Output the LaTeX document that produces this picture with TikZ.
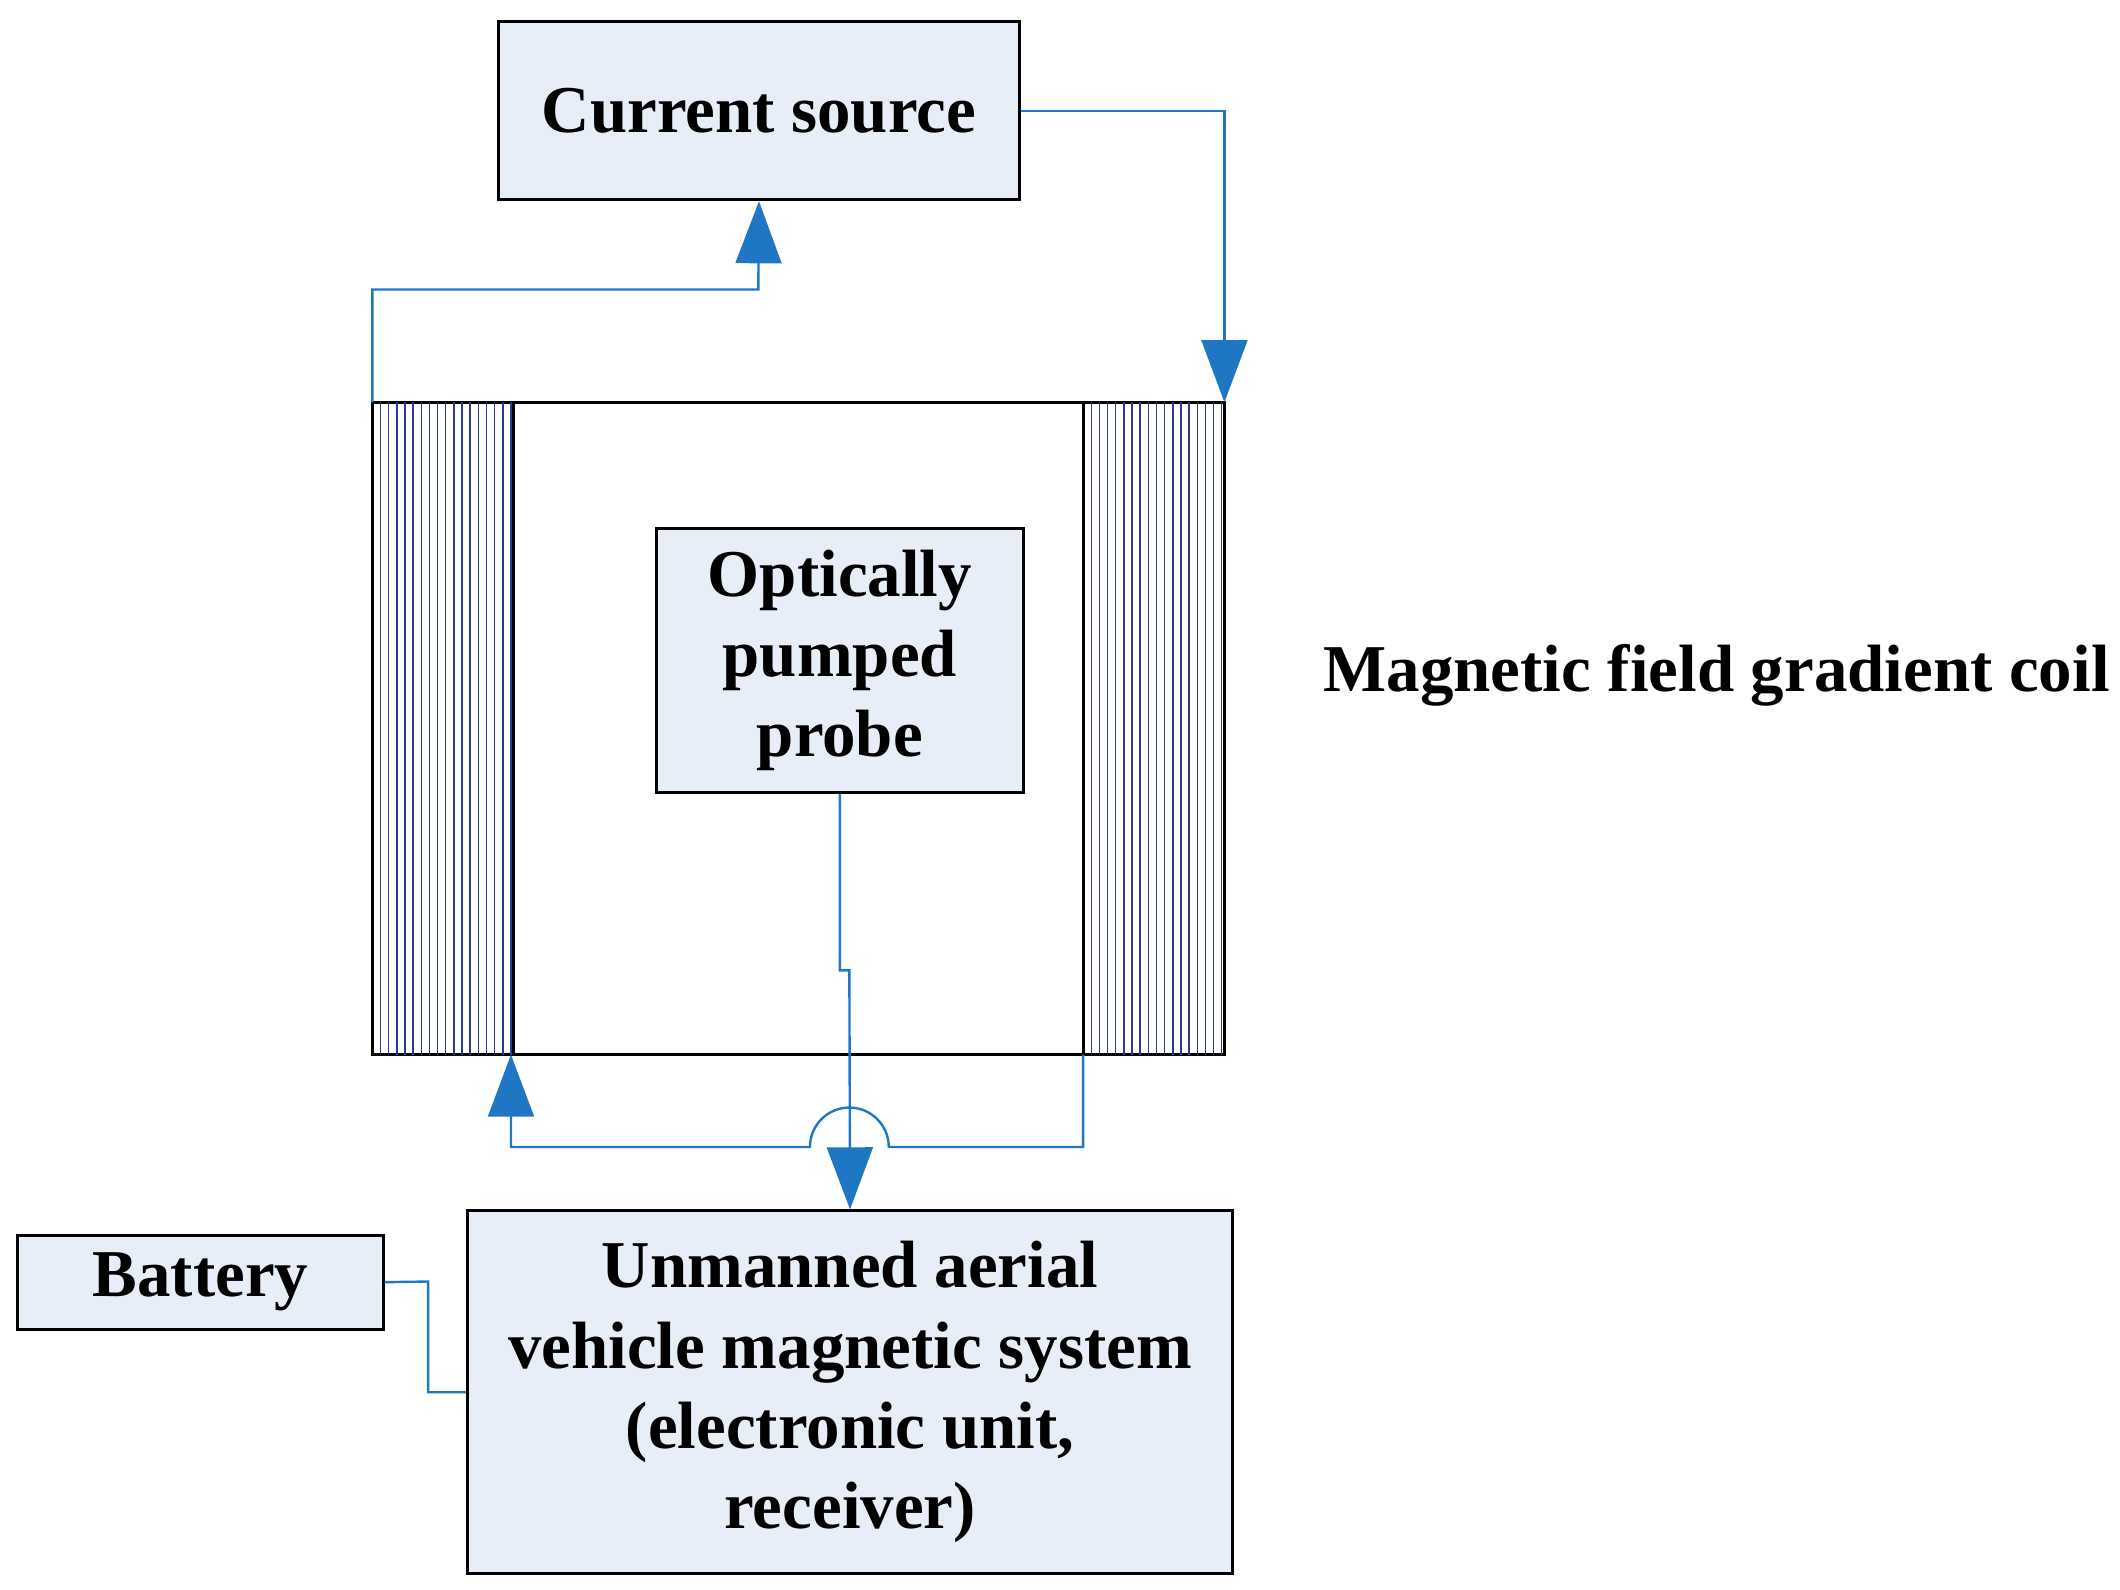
\documentclass[tikz,border=0pt]{standalone}
\usepackage{fontspec}
\setmainfont{Liberation Serif}
\usetikzlibrary{arrows.meta}
\definecolor{ln}{HTML}{1F77C4}
\definecolor{bx}{HTML}{E8EEF7}
\definecolor{hatch}{HTML}{2B3A8C}
\begin{document}
\begin{tikzpicture}[x=0.01cm,y=-0.01cm,
  box/.style={draw=black,fill=bx,line width=0.6pt,align=center,inner sep=0pt,
    font=\fontsize{14pt}{16.8pt}\selectfont\bfseries},
  conn/.style={draw=ln,line width=0.5pt},
  arr/.style={conn,-{Triangle[width=9.6pt,length=13pt]}}]
\useasboundingbox (0,0) rectangle (1560,1170);
\node[box,minimum width=383*0.01cm,minimum height=131*0.01cm] (cs) at (558.5,81.5) {Current source};
\node[box,minimum width=270*0.01cm,minimum height=194*0.01cm] (pr) at (618,486) {Optically\\pumped\\probe};
\node[box,minimum width=269*0.01cm,minimum height=69*0.01cm] (bat) at (147.5,943.5) {Battery};
\node[box,minimum width=563*0.01cm,minimum height=267*0.01cm] (uav) at (625.5,1024.5) {Unmanned aerial\\vehicle magnetic system\\(electronic unit,\\receiver)};
\node[font=\fontsize{14pt}{16.8pt}\selectfont\bfseries,anchor=east,inner sep=0pt] (lab) at (1553,497) {Magnetic field gradient coil};
% coil
\draw[line width=0.6pt] (274,296) rectangle (901,776);
\foreach \x in {280,286,...,376} \draw[hatch,line width=0.3pt] (\x,296) -- (\x,776);
\foreach \x in {803,809,...,899} \draw[hatch,line width=0.3pt] (\x,296) -- (\x,776);
\draw[line width=0.6pt] (378,296) -- (378,776) (797,296) -- (797,776);
\coordinate (lt) at (274,296);
\coordinate (rt) at (901,296);
\coordinate (rb) at (797,776);
\coordinate (lb) at (376,776);
% connectors
\draw[arr] (lt) |- (558,213) -- (cs.south);
\draw[arr] (cs.east) -| (rt);
\draw[arr] (pr.south) -- (618,714) -- (625,714) -- (uav.north);
\draw[arr] (rb) |- (654,844) arc[start angle=0,end angle=-180,radius=29] -- (376,844) -- (lb);
\draw[conn] (bat.east) -- (315,943) |- (uav.west);
\end{tikzpicture}
\end{document}
